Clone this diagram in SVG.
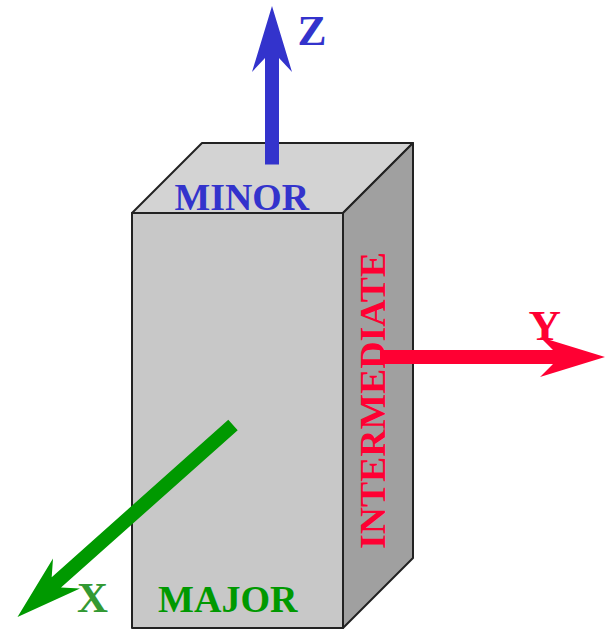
<svg xmlns="http://www.w3.org/2000/svg" width="605" height="636" viewBox="0 0 605 636">
<style>
.face{stroke:#222;stroke-width:2;stroke-linejoin:round}
.t{font-family:"Liberation Serif","Times New Roman",serif;font-weight:bold}
.b{fill:#3333cc}.g{fill:#009900}.r{fill:#ff0033}
</style>
<rect width="605" height="636" fill="#fff"/>
<g id="box">
<polygon class="face" fill="#d3d3d3" points="132,213 202,143 413,143 343,213"/>
<polygon class="face" fill="#a0a0a0" points="343,213 413,143 413,558 343,628"/>
<polygon class="face" fill="#c8c8c8" points="132,213 343,213 343,628 132,628"/>
</g>
<g id="labels">
<text class="t b" x="174.500" y="210" font-size="37" textLength="134.500" lengthAdjust="spacingAndGlyphs">MINOR</text>
<text class="t g" x="158" y="612" font-size="37.500" textLength="139.500" lengthAdjust="spacingAndGlyphs">MAJOR</text>
<text class="t r" transform="translate(385 549) rotate(-90)" font-size="36.500" textLength="297" lengthAdjust="spacingAndGlyphs">INTERMEDIATE</text>
<text class="t b" x="297.500" y="45" font-size="43" textLength="29" lengthAdjust="spacingAndGlyphs">Z</text>
<text class="t" fill="#339933" x="77" y="612" font-size="43" textLength="31" lengthAdjust="spacingAndGlyphs">X</text>
<text class="t r" x="528.500" y="340" font-size="43" textLength="32.500" lengthAdjust="spacingAndGlyphs">Y</text>
</g>
<g id="connectors">
<polygon id="arrow-z" class="b" points="265,164.500 279,164.500 279,58 292,72 272,6 252,72 265,58"/>
<polygon id="arrow-y" class="r" points="380,350 553,350 540,337 605,357 540,377 553,364 380,364"/>
<polygon id="arrow-x" class="g" points="228.300,419.800 237.700,430.200 61,587.600 80,588.500 17.500,617 53,558.500 51.700,577.200"/>
</g>
</svg>
